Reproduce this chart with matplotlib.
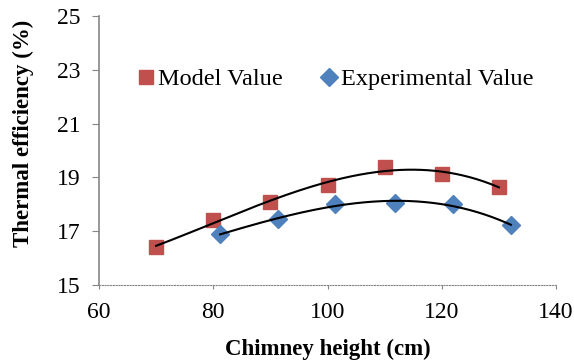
import numpy as np
import matplotlib
matplotlib.use("Agg")
import matplotlib.pyplot as plt

plt.rcParams["font.family"] = ["Liberation Serif", "DejaVu Serif"]

# data
model_x = [70, 80, 90, 100, 110, 120, 130]
model_y = [16.42, 17.41, 18.07, 18.72, 19.40, 19.14, 18.64]
exp_x = [81.2, 91.3, 101.4, 111.8, 122.0, 132.1]
exp_y = [16.88, 17.47, 18.00, 18.03, 18.00, 17.22]

red = "#C0504D"
blue = "#4F81BD"

fig = plt.figure(figsize=(5.74, 3.64), dpi=100)
ax = fig.add_axes([99 / 574, 1 - 285 / 364, 457 / 574, 269 / 364])

ax.plot(model_x, model_y, "s", color=red, markersize=10, label="Model Value", zorder=3)
ax.plot(exp_x, exp_y, "D", color=blue, markersize=9, label="Experimental Value", zorder=3)

# polynomial trendlines
for xs, ys in [(model_x, model_y), (exp_x, exp_y)]:
    c = np.polyfit(xs, ys, 3)
    xx = np.linspace(min(xs), max(xs), 200)
    ax.plot(xx, np.polyval(c, xx), color="black", lw=1.5, zorder=4)

ax.set_xlim(60, 140)
ax.set_ylim(15, 25)
ax.set_xticks([60, 80, 100, 120, 140])
ax.set_yticks([15, 17, 19, 21, 23, 25])

for s in ["top", "right"]:
    ax.spines[s].set_visible(False)
ax.spines["left"].set_color("#868686")
ax.spines["left"].set_linewidth(1.2)
ax.spines["bottom"].set_color("#868686")
ax.spines["bottom"].set_linestyle((0, (1, 1.5)))
ax.tick_params(axis="y", direction="out", length=5, color="#868686", labelsize=17, pad=8)
ax.tick_params(axis="x", direction="out", length=3, color="#868686", labelsize=17, pad=9)

ax.set_xlabel("Chimney height (cm)", fontsize=16.5, fontweight="bold")
ax.set_ylabel("Thermal efficiency (%)", fontsize=16.5, fontweight="bold")
ax.xaxis.set_label_coords(0.5, -0.2)
ax.yaxis.set_label_coords(-0.143, 0.563)

ax.legend(loc="center", bbox_to_anchor=(0.513, 0.765), ncol=2, frameon=False,
          fontsize=17.5, handletextpad=0.0, columnspacing=1.4, handlelength=1.0)

fig.savefig("out.png", dpi=100)
